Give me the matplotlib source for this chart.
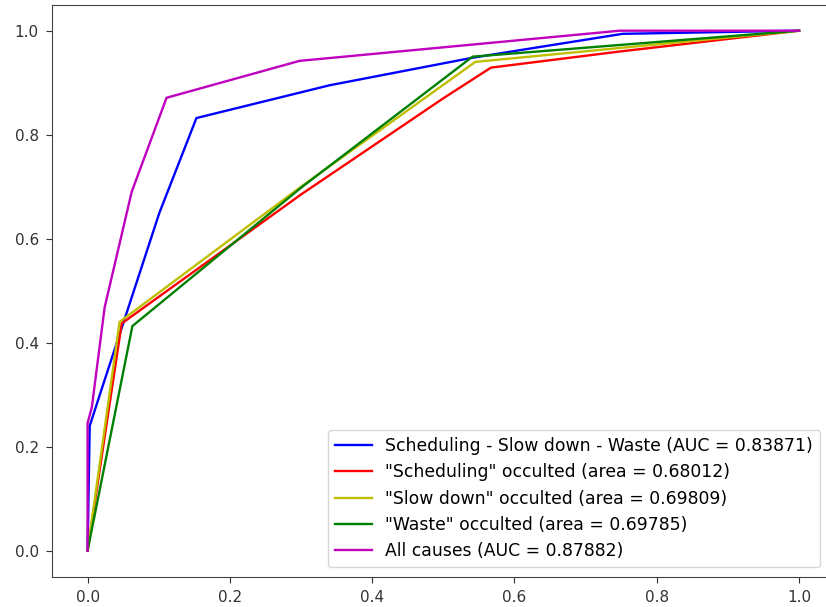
import matplotlib
matplotlib.use("Agg")
import matplotlib.pyplot as plt

# ROC-style curves
fpr_all3 = [0.0, 0.003, 0.022, 0.101, 0.153, 0.34, 0.541, 0.752, 1.0]
tpr_all3 = [0.0, 0.24, 0.32, 0.65, 0.832, 0.895, 0.948, 0.994, 1.0]

fpr_sched = [0.0, 0.048, 0.30, 0.50, 0.567, 0.748, 1.0]
tpr_sched = [0.0, 0.437, 0.685, 0.87, 0.929, 0.96, 1.0]

fpr_slow = [0.0, 0.045, 0.30, 0.545, 1.0]
tpr_slow = [0.0, 0.44, 0.70, 0.94, 1.0]

fpr_waste = [0.0, 0.063, 0.30, 0.541, 1.0]
tpr_waste = [0.0, 0.432, 0.698, 0.95, 1.0]

fpr_causes = [0.0, 0.0, 0.006, 0.024, 0.062, 0.111, 0.298, 0.748, 1.0]
tpr_causes = [0.0, 0.245, 0.276, 0.468, 0.69, 0.871, 0.942, 1.0, 1.0]

labels = [
    "Scheduling - Slow down - Waste (AUC = 0.83871)",
    '"Scheduling" occulted (area = 0.68012)',
    '"Slow down" occulted (area = 0.69809)',
    '"Waste" occulted (area = 0.69785)',
    "All causes (AUC = 0.87882)",
]

fig = plt.figure(figsize=(8.26, 6.07), dpi=100)
# axes run past the right edge: the reference is cropped there
ax = fig.add_axes([52.0 / 826, 30.3 / 607, 782.6 / 826, 572.0 / 607])

ax.plot(fpr_all3, tpr_all3, color="b", lw=1.7, label=labels[0])
ax.plot(fpr_sched, tpr_sched, color="r", lw=1.7, label=labels[1])
ax.plot(fpr_slow, tpr_slow, color="y", lw=1.7, label=labels[2])
ax.plot(fpr_waste, tpr_waste, color="g", lw=1.7, label=labels[3])
ax.plot(fpr_causes, tpr_causes, color="m", lw=1.7, label=labels[4])

ax.set_xticks([0.0, 0.2, 0.4, 0.6, 0.8, 1.0])
ax.set_yticks([0.0, 0.2, 0.4, 0.6, 0.8, 1.0])
ax.tick_params(labelsize=11, colors="#333333", length=4, pad=5.5)
for s in ax.spines.values():
    s.set_color("#444444")

ax.legend(
    loc="lower right",
    bbox_to_anchor=(820 / 826, 40 / 607),
    bbox_transform=fig.transFigure,
    borderaxespad=0,
    fontsize=12.4,
    labelspacing=0.48,
    handlelength=2.15,
)

fig.savefig("out.png", dpi=100)
